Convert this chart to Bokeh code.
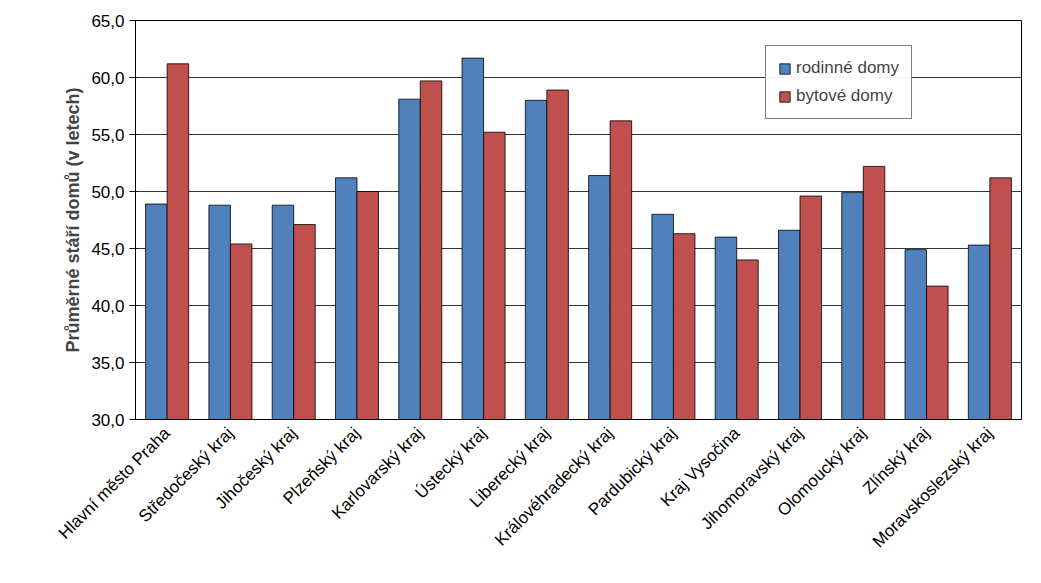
from bokeh.plotting import figure
from bokeh.models import ColumnDataSource, CustomJSTickFormatter, Legend, LegendItem, FactorRange
from bokeh.transform import dodge
from bokeh.embed import file_html
from bokeh.resources import INLINE
import math

regions = ["Hlavní město Praha", "Středočeský kraj", "Jihočeský kraj", "Plzeňský kraj",
           "Karlovarský kraj", "Ústecký kraj", "Liberecký kraj", "Královéhradecký kraj",
           "Pardubický kraj", "Kraj Vysočina", "Jihomoravský kraj", "Olomoucký kraj",
           "Zlínský kraj", "Moravskoslezský kraj"]
rodinne = [48.9, 48.8, 48.8, 51.2, 58.1, 61.7, 58.0, 51.4, 48.0, 46.0, 46.6, 49.9, 44.9, 45.3]
bytove = [61.2, 45.4, 47.1, 50.0, 59.7, 55.2, 58.9, 56.2, 46.3, 44.0, 49.6, 52.2, 41.7, 51.2]

src = ColumnDataSource(dict(x=regions, r=rodinne, b=bytove))

p = figure(x_range=FactorRange(*regions, range_padding=0.0), y_range=(30, 65),
           width=1025, height=567, output_backend="svg", toolbar_location=None,
           min_border_left=135, min_border_top=20, min_border_right=4, min_border_bottom=148)
p.outline_line_color = "black"
br = p.vbar(x=dodge("x", -0.17, range=p.x_range), top="r", bottom=30, width=0.34, source=src,
            fill_color="#4F81BD", line_color="black", line_width=0.8)
bb = p.vbar(x=dodge("x", 0.17, range=p.x_range), top="b", bottom=30, width=0.34, source=src,
            fill_color="#C0504D", line_color="black", line_width=0.8)

p.xgrid.grid_line_color = None
p.ygrid.grid_line_color = "black"
p.ygrid.grid_line_width = 0.8
p.yaxis.ticker = [30, 35, 40, 45, 50, 55, 60, 65]
p.yaxis.formatter = CustomJSTickFormatter(code="return tick.toFixed(1).replace('.', ',');")
p.yaxis.axis_label = "Průměrné stáří domů (v letech)"
p.yaxis.axis_label_text_font = "Liberation Sans"
p.yaxis.axis_label_text_font_style = "bold"
p.yaxis.axis_label_text_font_size = "18px"
for ax in (p.xaxis, p.yaxis):
    ax.major_label_text_font = "Liberation Sans"
    ax.major_label_text_font_size = "17px"
    ax.major_label_text_color = "black"
    ax.axis_line_color = "black"
    ax.major_tick_line_color = "black"
    ax.minor_tick_line_color = None
p.xaxis.major_label_orientation = math.pi / 4
p.xaxis.major_tick_line_color = None

legend = Legend(items=[LegendItem(label="rodinné domy", renderers=[br]),
                       LegendItem(label="bytové domy", renderers=[bb])],
                location=(630, 300), border_line_color="black", label_text_font="Liberation Sans",
                label_text_font_size="17px", glyph_width=13, glyph_height=13, spacing=8,
                padding=12, margin=0)
p.add_layout(legend)

open("out.html", "w").write(file_html(p, INLINE))
